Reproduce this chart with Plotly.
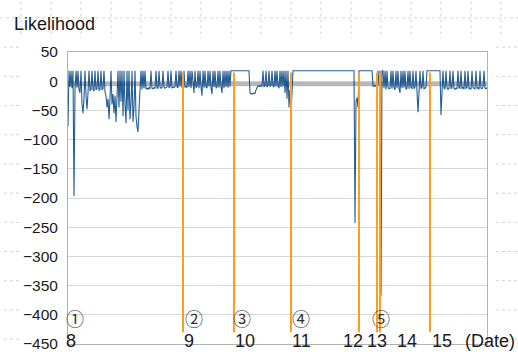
import plotly.graph_objects as go

# ---- data (sample index along x, likelihood along y) ----
seg_a = [-77, 18, -10, 18, -12, 18, -197, -14, 18, -11, 18, -15, -20, 18, -38, -55, -30, 18, -25, -48,
         -20, 18, -16, -15, 18, -14, -17, 18, -15, -13, 18, -16, -14, 18, -15, -13, 18]
seg_b = [-18, -25, -45, -30, -65, -28, 18, -40, -22, -55, -25, -70, -30, 18, -45, 18, -35, 18, -60, 18,
         -40, -72, 18, -50, 18, -65, -38, 18, -70, -45, 18, -60, -78, -87, -50, -20]
seg_c = [18, -14, 18, -12, 18, -13, -12, -14, -11, -13, 18, -12, -13, -11, -12, 18, -11, -12, 18, -10,
         -12, -11, 18, -10, -12, -11, -10, 18, -11, -10, 18, -12, -10, -11, -9, 18, -10, -11, 18, -9,
         18, -10, -9]
seg_d = [18, -10, -9, -11, 18, -10, 18, -12, 18, -10, -20, 18, -11, -9, 18, -12, 18, -10, -25, 18,
         -11, 18, -10, -12, 18, -9, 18, -11, -22, 18, -10, 18, -12, -10, 18, -11, 18, -9, -20, 18,
         -12, 18, -10, 18, -11, 18, -9, 18]
seg_e = [18, 18, 18, 18, 18, 18, 18, 18, 18, 18, 18, 18, 18, 18, 18, 18, 18, 18]
seg_f = [-20, -22, -21, -22, -20, -21, -15, -10, -8, -9, -7, -9, -8, 18, -9, -8, 18, -10, -8, 18,
         -9, -7, 18, -8, -10, 18, -9, 18, -8, -12, 18, -10, 18, -9, 18, -20, 18, -30, 18, -45,
         -15, -58, -20]
seg_g = [18, 18, 18, 18, 18, 18, 18, 18, 18, 18, 18, 18, 18, 18, 18, 18, 18, 18, 18, 18,
         18, 18, 18, 18, 18, 18, 18, 18, 18, 18, 18, 18, 18, 18, 18, 18, 18, 18, 18, 18,
         18, 18, 18, 18, 18, 18, 18, 18, 18, 18, 18, 18, 18, 18, 18, 18, 18, 18, 18, 18, 18]
seg_h = [18, -243, -35, -28, -45, 18, 18, 18, 18, 18, 18, 18, 18, 18, 18, 18, 18, 18, 18,
         -8, -9, -7, -8, -10, 18, -8, 18, -367, 18]
seg_i = [18, -12, 18, -14, 18, -11, -13, -12, 18, -13, 18, -11, -15, 18, -12, 18, -13, -20, 18, -12,
         18, -11, 18, -14, -12, 18, -13, 18, -11, -12, 18, -13, -10, 18, -14, -53, -20, 18, -12, -11,
         18, -13, -12, -10, 18]
seg_j = [18, 18, 18, 18, 18, 18, 18, 18, 18, 18, 18, 18, 18]
seg_k = [-58, -15, 18, -12, -13, 18, -11, -14, -12, 18, -13, -11, 18, -12, -14, -12, -13, 18, -11, -12,
         18, -13, -10, -14, 18, -12, -11, 18, -13, -12, -14, 18, -11, -12, -13, 18, -12, -11, -14, 18,
         -12, -13, -10, 18, -12, -13, -11]

likelihood = seg_a + seg_b + seg_c + seg_d + seg_e + seg_f + seg_g + seg_h + seg_i + seg_j + seg_k
sample = list(range(len(likelihood)))

threshold_x = [0, 419]
threshold_y = [-5, -5]

event_x = [115, 166, 223, 291, 309, 312, 362]
event_top = 15
event_bottom = -430

date_labels = ["8", "9", "10", "11", "12", "13", "14", "15"]
date_pos = [2.5, 121, 177, 233, 285, 309, 339, 374]
date_y = -445
date_unit = "(Date)"

marker_labels = ["①", "②", "③", "④", "⑤"]
marker_pos = [7, 126, 174, 233, 313]
marker_y = -406

y_ticks = [50, 0, -50, -100, -150, -200, -250, -300, -350, -400, -450]

# ---- figure ----
fig = go.Figure()

fig.add_trace(go.Scatter(x=threshold_x, y=threshold_y, mode="lines",
                         line=dict(color="#b8b8b8", width=4.5), hoverinfo="skip"))

fig.add_trace(go.Scatter(x=sample, y=likelihood, mode="lines",
                         line=dict(color="rgba(0,66,130,0.85)", width=1.1)))

ox, oy = [], []
for e in event_x:
    ox += [e, e, None]
    oy += [event_top, event_bottom, None]
fig.add_trace(go.Scatter(x=ox, y=oy, mode="lines",
                         line=dict(color="#ff9e1e", width=2), hoverinfo="skip"))

# spreadsheet background dotted grid (outside the plot area)
L, R, T, B = 68, 487, 52, 352
W, H = R - L, B - T
def px(xp):
    return (xp - L) / W
def py(yp):
    return (B - yp) / H

shapes = []
dot = dict(color="#d4d4d4", width=1, dash="dot")
for xv in range(21, 518, 30):
    shapes.append(dict(type="line", xref="paper", yref="paper", x0=px(xv), x1=px(xv),
                       y0=py(0), y1=py(38), line=dot, layer="below"))
shapes.append(dict(type="line", xref="paper", yref="paper", x0=px(0), x1=px(518),
                   y0=py(17), y1=py(17), line=dot, layer="below"))
for yv in range(47, 358, 30):
    shapes.append(dict(type="line", xref="paper", yref="paper", x0=px(4), x1=px(22),
                       y0=py(yv), y1=py(yv), line=dot, layer="below"))
    shapes.append(dict(type="line", xref="paper", yref="paper", x0=px(496), x1=px(518),
                       y0=py(yv), y1=py(yv), line=dot, layer="below"))

label_font = dict(family="Liberation Sans", size=18, color="#1a1a1a")
annotations = []
for t, xp in zip(date_labels, date_pos):
    annotations.append(dict(x=xp, y=date_y, xref="x", yref="y", text=t, showarrow=False,
                            font=label_font, xanchor="center", yanchor="middle", borderpad=0))
annotations.append(dict(x=px(490), y=py(349), xref="paper", yref="paper", text=date_unit,
                        showarrow=False, font=label_font, xanchor="center", yanchor="middle",
                        borderpad=0))
for t, xp in zip(marker_labels, marker_pos):
    annotations.append(dict(x=xp, y=marker_y, xref="x", yref="y", text=t, showarrow=False,
                            font=dict(family="Noto Sans CJK JP", size=18, color="#333333"),
                            xanchor="center", yanchor="middle", borderpad=0))
annotations.append(dict(x=px(12), y=py(23), xref="paper", yref="paper", text="Likelihood",
                        showarrow=False, xanchor="left", yanchor="middle", font=label_font))

fig.update_layout(
    width=518, height=358,
    margin=dict(l=L, r=518 - R, t=T, b=358 - B),
    paper_bgcolor="white", plot_bgcolor="white",
    showlegend=False,
    shapes=shapes, annotations=annotations,
    xaxis=dict(range=[0, 419], showticklabels=False, showgrid=False, zeroline=False,
               showline=True, mirror=True, linecolor="#b3b3b3", linewidth=1, ticks=""),
    yaxis=dict(range=[-450, 50], tickvals=y_ticks, showgrid=True, gridcolor="#d6d6d6",
               gridwidth=1, zeroline=False, showline=True, mirror=True, linecolor="#b3b3b3",
               linewidth=1, ticks="", ticklabelstandoff=6, ticklabeloverflow="allow",
               tickfont=dict(family="Liberation Sans", size=15.5, color="#1a1a1a")),
)

fig.write_html("out.html")
